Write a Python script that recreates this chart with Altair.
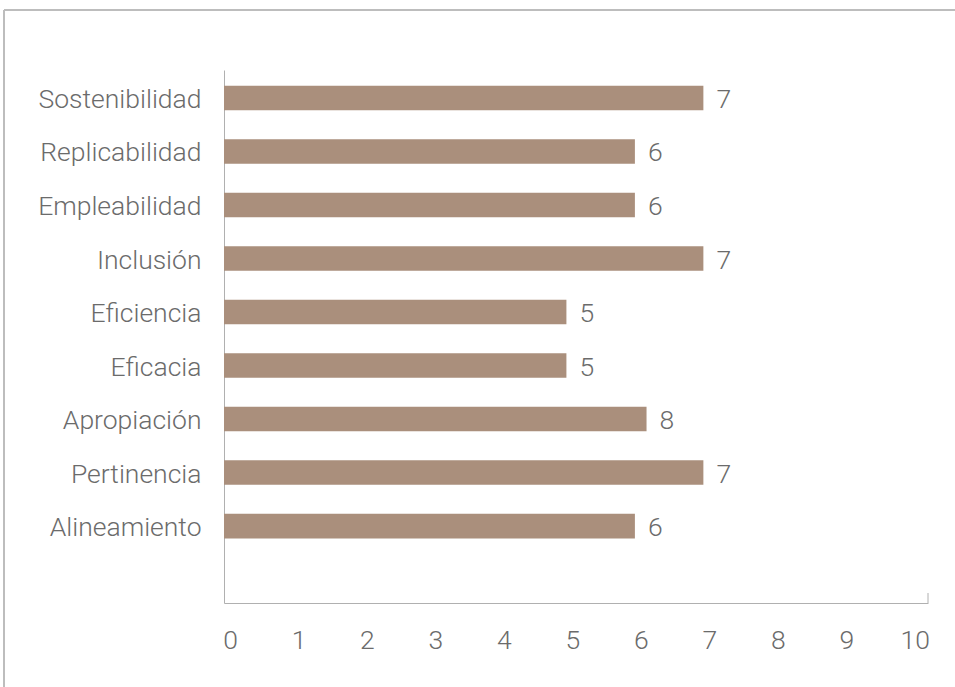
import altair as alt
import pandas as pd

categories = ["Sostenibilidad", "Replicabilidad", "Empleabilidad", "Inclusión",
              "Eficiencia", "Eficacia", "Apropiación", "Pertinencia", "Alineamiento"]
bar_values = [7, 6, 6, 7, 5, 5, 6.17, 7, 6]
label_texts = ["7", "6", "6", "7", "5", "5", "8", "7", "6"]
x_ticks = [0, 1, 2, 3, 4, 5, 6, 7, 8, 9, 10]
x_max = 10.28

df = pd.DataFrame({"cat": categories, "val": bar_values, "lab": label_texts})

FONT = "Roboto"
GRAY = "#6b6b6b"
AXIS = "#b0b0b0"
BAR = "#aa8f7c"
FS = 26.5

y_enc = alt.Y("cat:N", sort=categories,
              scale=alt.Scale(paddingInner=0.54, paddingOuter=0.75, align=0.195),
              axis=alt.Axis(title=None, ticks=False, labelPadding=23, domainColor=AXIS,
                            domainWidth=1, labelFont=FONT, labelFontWeight=300,
                            labelFontSize=FS, labelColor=GRAY, labelLimit=400, labelOffset=2))
x_enc = alt.X("val:Q", scale=alt.Scale(domain=[0, x_max], nice=False, zero=True),
              axis=alt.Axis(title=None, values=x_ticks, format="d", grid=False, ticks=False,
                            labelPadding=24, labelOffset=6, domainColor=AXIS, domainWidth=1,
                            labelFont=FONT, labelFontWeight=300, labelFontSize=FS,
                            labelColor=GRAY, labelFlush=False))

base = alt.Chart(df)
bars = base.mark_bar(color=BAR).encode(x=x_enc, y=y_enc)
labels = base.mark_text(align="left", baseline="middle", dx=13, dy=2, font=FONT,
                        fontWeight=300, fontSize=FS, color=GRAY).encode(
    x="val:Q", y=alt.Y("cat:N", sort=categories), text="lab:N")

end_tick = alt.Chart(pd.DataFrame({"v": [x_max]})).mark_rule(color=AXIS, strokeWidth=1).encode(
    x="v:Q", y=alt.value(523), y2=alt.value(533))

frame_top = alt.Chart(pd.DataFrame({"a": [0]})).mark_rule(color="#bdbdbd", strokeWidth=2).encode(
    x=alt.value(-220), x2=alt.value(800), y=alt.value(-60))
frame_left = alt.Chart(pd.DataFrame({"a": [0]})).mark_rule(color="#bdbdbd", strokeWidth=2).encode(
    x=alt.value(-220), y=alt.value(-60), y2=alt.value(700))

chart = alt.layer(bars, labels, end_tick, frame_top, frame_left).properties(
    width=704, height=533,
    padding={"left": 224, "top": 70, "right": 27, "bottom": 84},
    autosize=alt.AutoSizeParams(type="none"),
    background="white",
).configure_view(stroke=None)

chart.save("out.html", embed_options={"renderer": "svg", "actions": False})
